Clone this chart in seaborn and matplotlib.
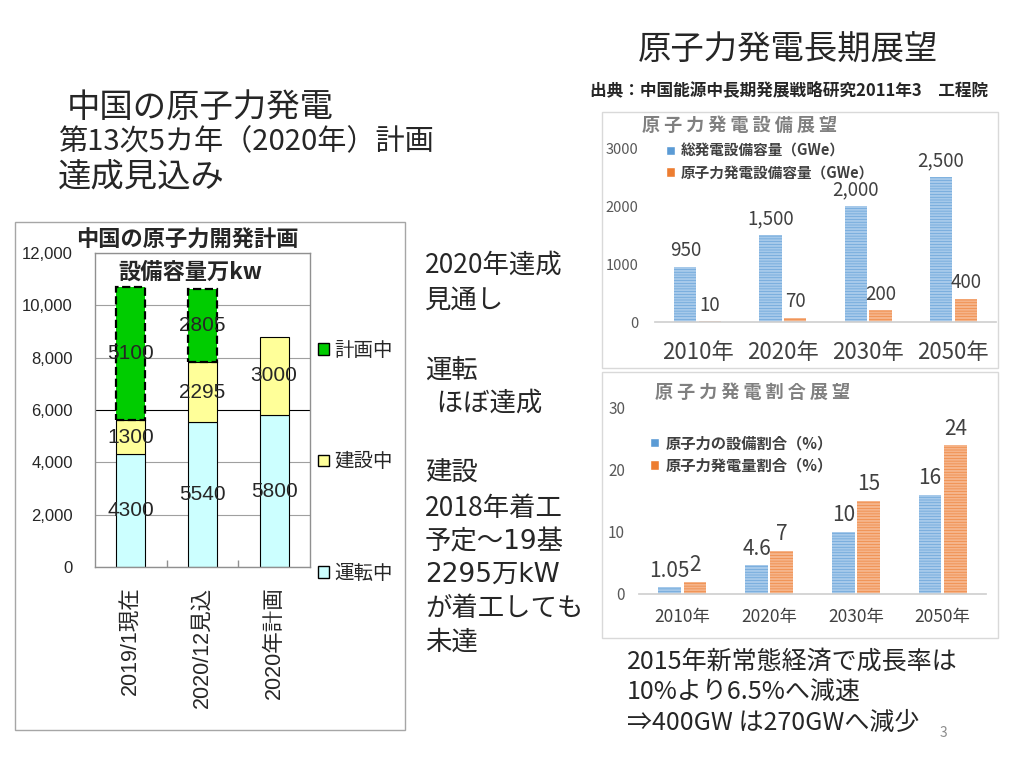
import matplotlib
matplotlib.use('Agg')
import matplotlib.pyplot as plt
import seaborn as sns
import pandas as pd
from matplotlib.patches import Rectangle, Patch
from matplotlib.ticker import StrMethodFormatter

sns.set_theme(style='white')
plt.rcParams['font.family'] = ['Noto Sans CJK JP', 'DejaVu Sans']
plt.rcParams['hatch.linewidth'] = 1.6
ARIAL = ['Liberation Sans', 'Noto Sans CJK JP']
WIDE = ['DejaVu Sans', 'Noto Sans CJK JP']

# ---------------- data ----------------
dev_cats = ['2019/1現在', '2020/12見込', '2020年計画']
dev_running = [4300, 5540, 5800]
dev_building = [1300, 2295, 3000]
dev_planned_cats = ['2019/1現在', '2020/12見込']
dev_planned = [5100, 2805]
dev_yticks = [0, 2000, 4000, 6000, 8000, 10000, 12000]
dev_legend = ['計画中', '建設中', '運転中']

years = ['2010年', '2020年', '2030年', '2050年']
cap_total = [950, 1500, 2000, 2500]
cap_nuclear = [10, 70, 200, 400]
cap_series = ['総発電設備容量（GWe）', '原子力発電設備容量（GWe）']
cap_yticks = [0, 1000, 2000, 3000]

share_capacity = [1.05, 4.6, 10, 16]
share_generation = [2, 7, 15, 24]
share_series = ['原子力の設備割合（%）', '原子力発電量割合（%）']
share_yticks = [0, 10, 20, 30]

BLUE, ORANGE = '#5B9BD5', '#ED7D31'
BLUE_L, ORANGE_L = '#A6C9EA', '#F5B48A'
C_RUN, C_BUILD, C_PLAN = '#CCFFFF', '#FFFF99', '#00CC00'

W, H = 1024, 760
fig = plt.figure(figsize=(W / 100, H / 100), dpi=100)
fig.patch.set_facecolor('white')


def fx(px):
    return px / W


def fy(py):
    return 1 - py / H


def box(x0, y0, x1, y1, ec):
    fig.patches.append(Rectangle((fx(x0), fy(y1)), (x1 - x0) / W, (y1 - y0) / H,
                                 transform=fig.transFigure, fill=False, ec=ec, lw=1))


# ---------------- left chart ----------------
box(15, 222, 405, 730, '#a6a6a6')
ax1 = fig.add_axes([fx(95), fy(567), 215 / W, 314 / H])
common = dict(ax=ax1, width=0.4, saturation=1, errorbar=None, edgecolor='black', linewidth=0.8)
sns.barplot(x=dev_cats, y=dev_running, color=C_RUN, **common)
sns.barplot(x=dev_cats, y=dev_building, bottom=dev_running, color=C_BUILD, **common)
plan_bottom = [r + b for r, b in zip(dev_running, dev_building)][:len(dev_planned)]
sns.barplot(x=dev_planned_cats, y=dev_planned, order=dev_cats, bottom=plan_bottom,
            color=C_PLAN, ax=ax1, width=0.4, saturation=1, errorbar=None,
            edgecolor='black', linewidth=1.6, linestyle='--')
for c in ax1.containers:
    ax1.bar_label(c, label_type='center', fontsize=15, family=ARIAL)
ax1.set_ylim(0, 12000)
ax1.set_yticks(dev_yticks)
ax1.yaxis.set_major_formatter(StrMethodFormatter('{x:,.0f}'))
ax1.yaxis.grid(True, color='#a0a0a0', linewidth=0.8)
ax1.set_axisbelow(True)
ax1.get_ygridlines()[3].set_color('black')
for s in ax1.spines.values():
    s.set_color('#909090')
    s.set_linewidth(1)
ax1.set_xlabel('')
ax1.set_ylabel('')
ax1.tick_params(axis='y', length=0, pad=16, labelsize=12)
ax1.tick_params(axis='x', length=0, pad=14, labelsize=15.5, rotation=90)
for t in ax1.get_yticklabels() + ax1.get_xticklabels():
    t.set_family(ARIAL)
ax1.set_xticks([0.5, 1.5], minor=True)
ax1.tick_params(axis='x', which='minor', direction='in', length=5, color='#909090', bottom=True)

handles = [Patch(fc=C_PLAN, ec='black', label=dev_legend[0]),
           Patch(fc=C_BUILD, ec='black', label=dev_legend[1]),
           Patch(fc=C_RUN, ec='black', label=dev_legend[2])]
fig.legend(handles=handles, loc='upper left', bbox_to_anchor=(fx(318), fy(340)),
           frameon=False, fontsize=14, handlelength=0.55, handleheight=0.55,
           handletextpad=0.3, labelspacing=4.65, borderpad=0, borderaxespad=0)
fig.text(fx(187), fy(240), '中国の原子力開発計画', fontsize=16, weight='bold', ha='center', va='center')
fig.text(fx(190), fy(272), '設備容量万kw', fontsize=16, weight='bold', ha='center', va='center')


# ---------------- right charts ----------------
def dodge_chart(ax, a, b, series, yticks, lab_fmt, lab_size, lab_pad, xt_size, xt_pad, yt_size, yt_pad):
    df = pd.DataFrame({'year': years * 2, 'value': a + b,
                       'series': [series[0]] * len(a) + [series[1]] * len(b)})
    sns.barplot(data=df, x='year', y='value', hue='series', hue_order=series,
                palette=[BLUE, ORANGE], saturation=1, width=0.58, gap=0.1,
                errorbar=None, legend=False, ax=ax)
    for c, light in zip(ax.containers, [BLUE_L, ORANGE_L]):
        for p in c:
            p.set_hatch('------')
            p.set_edgecolor(light)
            p.set_linewidth(0)
        ax.bar_label(c, labels=[lab_fmt(v) for v in c.datavalues], padding=lab_pad,
                     fontsize=lab_size, color='#404040')
    ax.set_ylim(yticks[0], yticks[-1])
    ax.set_yticks(yticks)
    ax.set_xlabel('')
    ax.set_ylabel('')
    for k in ['left', 'right', 'top']:
        ax.spines[k].set_visible(False)
    ax.spines['bottom'].set_color('#d0d0d0')
    ax.tick_params(axis='y', length=0, labelsize=yt_size, labelcolor='#595959', pad=yt_pad)
    ax.tick_params(axis='x', length=0, labelsize=xt_size, labelcolor='#404040', pad=xt_pad)
    ax.set_facecolor('none')


box(602, 112, 998, 368, '#d9d9d9')
ax2 = fig.add_axes([fx(655), fy(322), 341 / W, 174 / H])
dodge_chart(ax2, cap_total, cap_nuclear, cap_series, cap_yticks,
            lambda v: f'{v:,.0f}', 13.5, 4, 16, 14, 10.5, 12)
fig.text(fx(642), fy(125), ' '.join('原子力発電設備展望'), fontsize=13, weight='bold',
         color='#808080', va='center')
fig.legend(handles=[Patch(fc=BLUE, label=cap_series[0]), Patch(fc=ORANGE, label=cap_series[1])],
           loc='upper left', bbox_to_anchor=(fx(666), fy(143)), frameon=False,
           prop={'weight': 'bold', 'size': 10.5}, labelcolor='#404040',
           handlelength=0.6, handleheight=0.6, handletextpad=0.4, labelspacing=0.35,
           borderpad=0, borderaxespad=0)

box(602, 372, 998, 638, '#d9d9d9')
ax3 = fig.add_axes([fx(639), fy(594), 347 / W, 186 / H])
dodge_chart(ax3, share_capacity, share_generation, share_series, share_yticks,
            lambda v: f'{v:g}', 15, 4, 12.5, 10, 11, 10)
fig.text(fx(655), fy(392), ' '.join('原子力発電割合展望'), fontsize=13, weight='bold',
         color='#808080', va='center')
fig.legend(handles=[Patch(fc=BLUE, label=share_series[0]), Patch(fc=ORANGE, label=share_series[1])],
           loc='upper left', bbox_to_anchor=(fx(650), fy(435)), frameon=False,
           prop={'weight': 'bold', 'size': 11}, labelcolor='#404040',
           handlelength=0.6, handleheight=0.6, handletextpad=0.4, labelspacing=0.4,
           borderpad=0, borderaxespad=0)

# ---------------- slide texts ----------------
fig.text(fx(67), fy(107), '中国の原子力発電', fontsize=24, va='center')
fig.text(fx(58), fy(142), '第13次5カ年（2020年）計画', fontsize=21, va='center')
fig.text(fx(58), fy(178), '達成見込み', fontsize=24, va='center')
fig.text(fx(788), fy(50), '原子力発電長期展望', fontsize=24, ha='center', va='center')
fig.text(fx(789), fy(90), '出典：中国能源中長期発展戦略研究2011年3　工程院', fontsize=12,
         weight='bold', ha='center', va='center')

side_lines = ['2020年達成', '見通し', '運転', '  ほぼ達成', '建設', '2018年着工',
              '予定～19基', '2295万kW', 'が着工しても', '未達']
side_y = [265, 300, 370, 403, 473, 508, 542, 575, 608, 642]
side_fam = [None, None, None, None, None, None, WIDE, WIDE, None, None]
for s, y, fam in zip(side_lines, side_y, side_fam):
    t = fig.text(fx(425), fy(y), s, fontsize=19, va='center')
    if fam:
        t.set_family(fam)

bottom_lines = ['2015年新常態経済で成長率は', '10%より6.5%へ減速', '⇒400GW は270GWへ減少']
bottom_y = [662, 693, 723]
for s, y in zip(bottom_lines, bottom_y):
    fig.text(fx(627), fy(y), s, fontsize=18, va='center')
fig.text(fx(940), fy(733), '3', fontsize=10, color='#8c8c8c', va='center')

fig.savefig('out.png', dpi=100, facecolor='white')
